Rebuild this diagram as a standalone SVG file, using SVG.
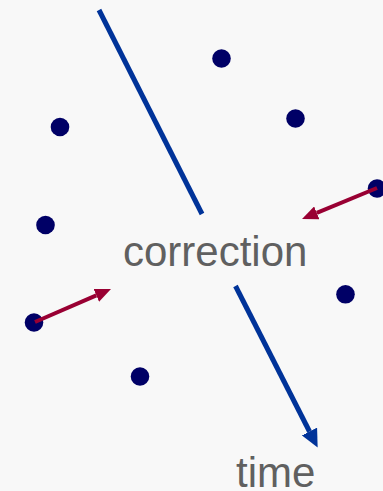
<svg xmlns="http://www.w3.org/2000/svg" width="383" height="491" viewBox="0 0 383 491">
<style>
.dot{fill:#000066}
.time{stroke:#003399;stroke-width:5;fill:none}
.corr{stroke:#990033;stroke-width:4;fill:none}
.lbl{font-family:"Liberation Sans",Arial,sans-serif;font-size:42px;fill:#606060}
</style>
<defs>
<marker id="ab" markerUnits="userSpaceOnUse" markerWidth="18" markerHeight="17" refX="0" refY="8.5" orient="auto"><path d="M0,0 L18,8.5 L0,17 z" fill="#003399"/></marker>
<marker id="ar" markerUnits="userSpaceOnUse" markerWidth="16" markerHeight="14" refX="0" refY="7" orient="auto"><path d="M0,0 L16,7 L0,14 z" fill="#990033"/></marker>
</defs>
<rect width="383" height="491" fill="#f8f8f8"/>
<g id="p1"><circle class="dot" cx="221.5" cy="58.5" r="9.3"/></g>
<g id="p2"><circle class="dot" cx="295.5" cy="118.5" r="9.3"/></g>
<g id="p3"><circle class="dot" cx="60" cy="127" r="9.3"/></g>
<g id="p4"><circle class="dot" cx="45.5" cy="225" r="9.3"/></g>
<g id="p5"><circle class="dot" cx="377" cy="188.5" r="9.3"/></g>
<g id="p6"><circle class="dot" cx="345.5" cy="294.3" r="9.3"/></g>
<g id="p7"><circle class="dot" cx="34" cy="322.5" r="9.3"/></g>
<g id="p8"><circle class="dot" cx="140" cy="376.5" r="9.3"/></g>
<g id="connectors">
<line class="time" x1="99" y1="10" x2="202" y2="214"/>
<line class="time" x1="235.5" y1="286" x2="309.5" y2="431.5" marker-end="url(#ab)"/>
<line class="corr" x1="35" y1="322" x2="96.3" y2="295.4" marker-end="url(#ar)"/>
<line class="corr" x1="377" y1="188" x2="316.8" y2="212.9" marker-end="url(#ar)"/>
</g>
<g id="labels">
<text class="lbl" x="123" y="266">correction</text>
<text class="lbl" x="236" y="487">time</text>
</g>
</svg>
